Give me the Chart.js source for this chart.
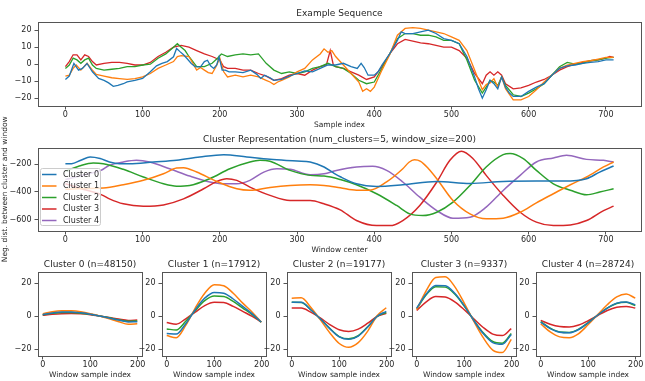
<!DOCTYPE html>
<html>
<head>
<meta charset="utf-8">
<script src="https://cdn.jsdelivr.net/npm/chart.js@4.4.0/dist/chart.umd.min.js"></script>
<style>
  html, body { margin: 0; padding: 0; background: #fff; }
  body { width: 645px; height: 381px; position: relative; overflow: hidden; }
  canvas { position: absolute; }
</style>
</head>
<body>
<canvas id="chartSeq"></canvas>
<canvas id="chartRep"></canvas>
<canvas id="chartC0"></canvas>
<canvas id="chartC1"></canvas>
<canvas id="chartC2"></canvas>
<canvas id="chartC3"></canvas>
<canvas id="chartC4"></canvas>
<script>
/* ==================== DATA ==================== */
// example sequence, [sample index, value]
const seqBlue = [[0,-9],[5,-7],[11,0.4],[17,-3.5],[22,-2.5],[28,0.4],[35,-4.5],[43,-8.4],[50,-9.5],[56,-11],[62,-13],[68,-12.5],[75,-11.5],[80,-10.4],[90,-9.5],[100,-8.4],[110,-4.5],[118,-1],[125,0.5],[132,1.5],[140,4.3],[144,9.2],[148,7.5],[153,5.5],[158,3],[163,0.4],[168,-1.5],[175,-1.6],[180,1.5],[184,2.3],[188,-1],[192,-2.5],[196,-0.5],[199,4.3],[203,-3.5],[207,-3.5],[212,-4.5],[220,-4.5],[230,-5],[240,-3.5],[248,-6],[253,-8.4],[258,-6.5],[265,-8],[270,-9.5],[280,-9],[290,-7],[300,-5.5],[310,-4],[320,-4.5],[330,-2.5],[340,-0.5],[350,-0.5],[360,0.5],[370,-1.5],[378,-2.5],[383,0.5],[387,-2],[392,-6.5],[400,-6.5],[405,-4.5],[410,-0.5],[420,6],[430,14],[435,19],[440,18],[450,18],[460,19],[470,20],[480,18],[490,15],[500,14],[510,12],[520,4.5],[530,-7.5],[535,-14.5],[540,-20],[545,-15],[550,-9.5],[555,-11.5],[560,-14.5],[565,-7.5],[570,-13.5],[575,-17],[580,-19],[590,-19],[600,-16],[610,-13.5],[620,-11.5],[630,-6.5],[640,-2.5],[650,-1],[660,-0.5],[670,0.5],[680,1],[690,1.5],[700,2.5],[710,2.5]];
const seqOrange = [[0,-7],[5,-6.5],[10,-2.5],[14,-0.5],[20,-3.5],[28,0.5],[35,-3.5],[40,-6],[50,-7],[60,-8],[70,-8.5],[80,-9],[90,-8.5],[100,-7.5],[110,-5.5],[120,-2.5],[130,-0.5],[140,1.5],[145,4.5],[150,5],[160,4.5],[165,0.5],[170,-3.5],[175,-2],[180,-3.5],[185,-5],[190,-5.5],[195,-1.5],[200,3.5],[205,-4.5],[210,-7.5],[220,-6.5],[230,-7.5],[240,-6.5],[250,-7.5],[260,-9.5],[265,-10.5],[270,-12],[275,-10.5],[280,-9.5],[290,-7.5],[300,-4.5],[310,-2.5],[320,2.5],[330,6],[335,9],[340,7],[345,8],[350,4.5],[360,-0.5],[370,-5.5],[380,-10.5],[385,-16],[390,-14.5],[395,-16],[400,-13.5],[410,-3.5],[420,5.5],[430,17],[440,21],[450,21.5],[460,21],[470,20],[480,19],[490,18],[500,16],[510,14],[520,8],[530,-3.5],[540,-15],[545,-12],[550,-11],[555,-8.5],[560,-13.5],[565,-7.5],[570,-14.5],[580,-21],[590,-21],[600,-19],[610,-15],[620,-10.5],[630,-6.5],[640,-2.5],[650,-0.5],[660,0.5],[670,1.5],[680,2],[690,3],[700,4],[710,4]];
const seqGreen = [[0,-2.5],[5,-0.5],[10,3.5],[15,2.5],[20,0.5],[25,2.5],[30,3.5],[35,-0.5],[40,-2.5],[50,-3.5],[60,-3],[70,-2.5],[80,-1.5],[90,-1.5],[100,-0.5],[110,0],[120,3.5],[130,6],[140,10],[145,12],[150,10],[155,8],[160,4.5],[170,-1.5],[180,-1.5],[190,0.5],[197,3.5],[202,6],[210,4.5],[220,5.5],[230,6],[240,5.5],[250,6],[260,0.5],[270,-3.5],[280,-5.5],[290,-4.5],[300,-5.5],[310,-4.5],[320,-2.5],[330,-1.5],[340,0.5],[350,-1.5],[360,-2.5],[370,-5.5],[380,-9.5],[390,-11.5],[400,-10.5],[410,-2.5],[420,6],[430,15],[440,18],[450,18],[460,17],[470,17],[480,16],[490,14],[500,14],[510,12],[520,2.5],[530,-9.5],[540,-17],[545,-13.5],[550,-9.5],[555,-10.5],[560,-12.5],[565,-7.5],[570,-12.5],[580,-18],[590,-19],[600,-17],[610,-14.5],[620,-11.5],[630,-6.5],[640,-1.5],[650,1],[660,0],[670,0.5],[680,2],[690,2.5],[700,3.5],[710,4]];
const seqRed = [[0,-1.5],[5,1.5],[10,5.5],[15,5.5],[20,2.5],[25,5.5],[30,4.5],[35,1.5],[40,-0.5],[50,0.5],[60,1],[70,1],[80,0.5],[90,-0.5],[100,-0.5],[110,1],[120,4.5],[130,7],[140,10],[150,11],[160,10],[170,8],[180,6],[190,4.5],[200,2.5],[205,-1.5],[210,-2.5],[220,-2.5],[230,-3.5],[240,-3.5],[250,-5.5],[260,-7],[270,-9.5],[280,-8.5],[290,-6.5],[300,-5.5],[310,-6.5],[320,-3.5],[330,-1.5],[338,-0.5],[343,8],[347,-0.5],[350,-1.5],[360,-2.5],[370,-4.5],[380,-6.5],[390,-9],[400,-7.5],[410,-1.5],[420,6],[430,12],[440,14.5],[450,13.5],[460,12.5],[470,12],[480,11],[490,10],[500,10],[510,8],[520,3.5],[530,-5.5],[540,-11.5],[545,-6.5],[550,-4.5],[555,-6.5],[560,-4.5],[565,-6.5],[570,-11.5],[580,-14.5],[590,-14],[600,-12.5],[610,-10.5],[620,-9],[630,-6.5],[640,-3.5],[650,-1.5],[660,0],[670,1],[680,2],[690,2.5],[700,3.5],[705,4.5],[710,4]];

// cluster representation, [window center, neg. distance]
const repCluster0 = [[0,-196],[8,-195],[20,-170],[32,-147],[45,-158],[57,-183],[70,-195],[83,-195],[114,-183],[144,-171],[174,-147],[205,-130],[235,-147],[265,-164],[300,-176],[317,-183],[335,-219],[348,-265],[356,-290],[377,-341],[403,-360],[437,-348],[481,-324],[524,-338],[567,-324],[610,-321],[645,-321],[675,-304],[692,-256],[710,-212]];
const repCluster1 = [[0,-380],[25,-375],[49,-372],[75,-348],[101,-316],[127,-268],[144,-227],[153,-224],[170,-256],[196,-324],[222,-377],[239,-388],[265,-367],[291,-353],[317,-348],[335,-353],[356,-370],[377,-388],[394,-388],[416,-327],[437,-232],[445,-185],[452,-167],[460,-178],[470,-230],[481,-304],[502,-462],[524,-559],[545,-595],[567,-590],[589,-547],[610,-479],[632,-413],[654,-348],[675,-292],[697,-219],[710,-183]];
const repCluster2 = [[0,-250],[10,-228],[18,-212],[36,-190],[49,-195],[75,-236],[101,-292],[127,-341],[144,-358],[161,-353],[187,-304],[213,-232],[239,-183],[252,-171],[265,-178],[291,-244],[317,-280],[335,-285],[356,-310],[377,-348],[403,-413],[429,-498],[446,-559],[463,-571],[481,-547],[502,-474],[524,-353],[545,-219],[567,-130],[576,-122],[593,-159],[610,-244],[632,-341],[654,-388],[675,-421],[692,-401],[710,-377]];
const repCluster3 = [[0,-340],[20,-375],[47,-421],[57,-450],[75,-486],[101,-503],[127,-494],[153,-450],[179,-377],[196,-324],[209,-304],[222,-316],[239,-365],[265,-425],[291,-462],[317,-462],[335,-486],[356,-530],[377,-607],[403,-644],[420,-644],[437,-607],[459,-498],[481,-328],[498,-171],[513,-105],[528,-159],[545,-280],[567,-425],[589,-547],[610,-619],[632,-644],[654,-639],[675,-607],[697,-535],[710,-503]];
const repCluster4 = [[0,-310],[25,-275],[46,-244],[57,-207],[75,-183],[92,-171],[109,-183],[135,-232],[161,-285],[187,-328],[205,-341],[222,-341],[239,-316],[257,-256],[274,-232],[291,-236],[317,-275],[335,-268],[351,-244],[377,-219],[398,-214],[416,-244],[437,-328],[459,-438],[481,-535],[502,-590],[524,-583],[545,-510],[567,-389],[589,-280],[610,-183],[632,-154],[649,-135],[675,-164],[697,-171],[710,-183]];

// window sample index for the per-cluster panels
const winIndex = [0, 20, 40, 60, 80, 100, 120, 140, 160, 180, 199];
const win0Blue = [1.0, 2.0, 2.6, 2.6, 2.1, 1.3, 0.2, -1.0, -2.3, -3.4, -3.3];
const win0Orange = [1.5, 2.8, 3.4, 3.3, 2.7, 1.6, 0.2, -1.5, -3.3, -4.8, -4.6];
const win0Green = [0.9, 1.8, 2.3, 2.3, 1.9, 1.2, 0.2, -0.9, -2.1, -3.0, -2.8];
const win0Red = [0.6, 1.2, 1.6, 1.7, 1.5, 1.0, 0.2, -0.7, -1.7, -2.5, -2.3];
const win1Blue = [-10.5, -10.8, -4.5, 4, 11, 14.5, 14, 10.5, 6, 1.5, -3.5];
const win1Orange = [-11.7, -13.0, -5.5, 5, 14, 19.2, 18.5, 14, 8, 2.5, -3.5];
const win1Green = [-7.7, -8.3, -3, 3.5, 9.5, 12.3, 12, 9, 5, 1, -3.5];
const win1Red = [-3.8, -4.8, -1.5, 2.5, 6.5, 8.5, 8.3, 6, 3, 0, -3.5];
const win2Blue = [8.5, 8.5, 4, -1.5, -7.5, -12.5, -14, -12, -6.5, 0, 3];
const win2Orange = [11, 11.2, 5.5, -2, -10, -16.5, -18.8, -16, -9, 0.5, 5.2];
const win2Green = [8.5, 8.3, 4, -1.5, -7.3, -12.3, -13.7, -11.7, -6.3, 0, 2.3];
const win2Red = [5.0, 5.0, 2.5, -1, -5, -8.2, -9.2, -7.8, -4.2, 0, 1.8];
const win3Blue = [5, 13.5, 18.7, 18.5, 14, 6.5, -2.5, -10.5, -16, -17, -11];
const win3Orange = [4, 15.5, 23.5, 24, 18, 8, -3, -13, -20.5, -22, -14];
const win3Green = [4.5, 13, 18, 17.7, 13.5, 6.2, -2.3, -10, -15.3, -16.3, -10.5];
const win3Red = [3.5, 8.8, 12, 11.7, 8.8, 4, -1.5, -6.8, -10.8, -11.7, -7.5];
const win4Blue = [-3.6, -7.5, -9.7, -10, -8, -4, 0.8, 5, 8, 8.7, 7];
const win4Orange = [-4.5, -9.5, -12.5, -13, -10.5, -5, 1, 7, 11.8, 13.5, 11];
const win4Green = [-3.2, -7.2, -9.5, -9.8, -7.8, -3.8, 0.8, 5, 7.8, 8.5, 6.5];
const win4Red = [-2.5, -4.8, -6.2, -6.5, -5.3, -2.7, 0.5, 3.5, 5.5, 6, 5];

const clusterNames = ["Cluster 0", "Cluster 1", "Cluster 2", "Cluster 3", "Cluster 4"];
const clusterCounts = [48150, 17912, 19177, 9337, 28724];

// tick labels
const seqXTicks = [0, 100, 200, 300, 400, 500, 600, 700];
const seqYTicks = [-20, -10, 0, 10, 20];
const repYTicks = [-600, -400, -200];
const winXTicks = [0, 100, 200];
const winYTicks = [-20, 0, 20];

/* ==================== STYLE ==================== */
const TAB = {
  blue: "#1f77b4",
  orange: "#ff7f0e",
  green: "#2ca02c",
  red: "#d62728",
  purple: "#9467bd",
};
const TEXT = "#262626";
const EDGE = "#555555";

Chart.defaults.font.family = "'DejaVu Sans', sans-serif";
Chart.defaults.color = TEXT;

const fmt = (v) => String(v).replace("-", "\u2212");

// matplotlib style box round the axes
const frame = {
  id: "frame",
  afterDatasetsDraw(chart) {
    const { ctx, chartArea: a } = chart;
    ctx.save();
    ctx.strokeStyle = EDGE;
    ctx.lineWidth = 1;
    ctx.strokeRect(
      Math.round(a.left) + 0.5,
      Math.round(a.top) + 0.5,
      Math.round(a.right) - Math.round(a.left),
      Math.round(a.bottom) - Math.round(a.top)
    );
    ctx.restore();
  },
};

// legend drawn inside the axes, over the curves
const boxLegend = {
  id: "boxLegend",
  afterDatasetsDraw(chart) {
    const { ctx, chartArea: a } = chart;
    const x = Math.round(a.left) + 2.5;
    const y = Math.round(a.top) + 20.5;
    const w = 60;
    const h = 57;
    ctx.save();
    ctx.fillStyle = "rgba(255,255,255,0.8)";
    ctx.strokeStyle = "#cccccc";
    ctx.lineWidth = 1;
    ctx.beginPath();
    if (ctx.roundRect) ctx.roundRect(x, y, w, h, 2);
    else ctx.rect(x, y, w, h);
    ctx.fill();
    ctx.stroke();
    ctx.font = "8px 'DejaVu Sans'";
    ctx.textBaseline = "middle";
    ctx.textAlign = "left";
    chart.data.datasets.forEach((ds, i) => {
      const cy = y + 6 + i * 11.5;
      ctx.strokeStyle = ds.borderColor;
      ctx.lineWidth = 1.5;
      ctx.beginPath();
      ctx.moveTo(x + 1.5, cy);
      ctx.lineTo(x + 16, cy);
      ctx.stroke();
      ctx.fillStyle = TEXT;
      ctx.fillText(ds.label, x + 22.5, cy);
    });
    ctx.restore();
  },
};

function place(id, left, top, width, height) {
  const el = document.getElementById(id);
  el.width = width;
  el.height = height;
  el.style.left = left + "px";
  el.style.top = top + "px";
  return el;
}

function xScale(min, max, ticks, title) {
  return {
    type: "linear",
    min: min,
    max: max,
    afterBuildTicks: (s) => {
      s.ticks = ticks.map((v) => ({ value: v }));
    },
    afterFit: (s) => {
      s.height = 24;
    },
    grid: { drawOnChartArea: false, tickLength: 3.5, tickColor: EDGE },
    border: { display: false },
    ticks: { padding: 0.5, color: TEXT, font: { size: 8 }, maxRotation: 0, autoSkip: false, callback: fmt },
    title: { display: true, text: title, color: TEXT, font: { size: 7.5 }, padding: 0 },
  };
}

function yScale(min, max, ticks, width, title) {
  return {
    type: "linear",
    min: min,
    max: max,
    afterBuildTicks: (s) => {
      s.ticks = ticks.map((v) => ({ value: v }));
    },
    afterFit: (s) => {
      s.width = width;
    },
    grid: { drawOnChartArea: false, tickLength: 3.5, tickColor: EDGE },
    border: { display: false },
    ticks: { padding: 3, color: TEXT, font: { size: 8 }, autoSkip: false, callback: fmt },
    title: title
      ? { display: true, text: title, color: TEXT, font: { size: 7.5 }, padding: { top: 0.5, bottom: 0 } }
      : { display: false },
  };
}

function line(label, pairs, color, width, smooth) {
  return {
    label: label,
    data: pairs.map(([x, y]) => ({ x, y })),
    borderColor: color,
    backgroundColor: color,
    borderWidth: width,
    pointRadius: 0,
    fill: false,
    tension: 0,
    cubicInterpolationMode: smooth ? "monotone" : "default",
  };
}

function baseOptions(titleText, titlePad, padding, scales) {
  return {
    responsive: false,
    animation: false,
    events: [],
    layout: { padding: padding },
    plugins: {
      legend: { display: false },
      tooltip: { enabled: false },
      title: {
        display: true,
        text: titleText,
        fullSize: false,
        color: TEXT,
        font: { size: 9, weight: "normal" },
        padding: titlePad,
      },
    },
    scales: scales,
  };
}

/* ==================== EXAMPLE SEQUENCE ==================== */
new Chart(place("chartSeq", 0, 0, 645, 130), {
  type: "line",
  data: {
    datasets: [
      line("seq 0", seqBlue, TAB.blue, 1.3, false),
      line("seq 1", seqOrange, TAB.orange, 1.3, false),
      line("seq 2", seqGreen, TAB.green, 1.3, false),
      line("seq 3", seqRed, TAB.red, 1.3, false),
    ],
  },
  options: baseOptions(
    "Example Sequence",
    { top: 8.6, bottom: 2.9 },
    { top: 0, right: 4, bottom: 0, left: 0 },
    {
      x: xScale(-35.5, 745.5, seqXTicks, "Sample index"),
      y: yScale(-24.6, 24.6, seqYTicks, 38),
    }
  ),
  plugins: [frame],
});

/* ==================== CLUSTER REPRESENTATION ==================== */
const repSeries = [repCluster0, repCluster1, repCluster2, repCluster3, repCluster4];
const repColors = [TAB.blue, TAB.orange, TAB.green, TAB.red, TAB.purple];

new Chart(place("chartRep", 0, 105, 645, 170), {
  type: "line",
  data: {
    datasets: repSeries.map((s, i) => line(clusterNames[i], s, repColors[i], 1.5, true)),
  },
  options: baseOptions(
    "Cluster Representation (num_clusters=5, window_size=200)",
    { top: 29.6, bottom: 2.1 },
    { top: 0, right: 4, bottom: 20, left: 0 },
    {
      x: xScale(-35.5, 745.5, seqXTicks, "Window center"),
      y: yScale(-683, -78, repYTicks, 38, "Neg. dist. between cluster and window"),
    }
  ),
  plugins: [frame, boxLegend],
});

/* ==================== PER CLUSTER WINDOWS ==================== */
const winSeries = [
  [win0Blue, win0Orange, win0Green, win0Red],
  [win1Blue, win1Orange, win1Green, win1Red],
  [win2Blue, win2Orange, win2Green, win2Red],
  [win3Blue, win3Orange, win3Green, win3Red],
  [win4Blue, win4Orange, win4Green, win4Red],
];
const winColors = [TAB.blue, TAB.orange, TAB.green, TAB.red];
const panelLeft = [38, 162, 287, 412, 536];

winSeries.forEach((group, idx) => {
  const yw = idx === 0 ? 38 : 26;
  const canvas = place("chartC" + idx, panelLeft[idx] - yw, 250, yw + 104 + 8, 130);
  new Chart(canvas, {
    type: "line",
    data: {
      datasets: group.map((vals, k) =>
        line("w" + k, vals.map((v, j) => [winIndex[j], v]), winColors[k], 1.5, true)
      ),
    },
    options: baseOptions(
      `${clusterNames[idx]} (n=${clusterCounts[idx]})`,
      { top: 8.9, bottom: 2.6 },
      { top: 0, right: 8, bottom: 0, left: 0 },
      {
        x: xScale(-9.95, 208.95, winXTicks, "Window sample index"),
        y: yScale(-24.1, 26.7, winYTicks, yw),
      }
    ),
    plugins: [frame],
  });
});
</script>
</body>
</html>
